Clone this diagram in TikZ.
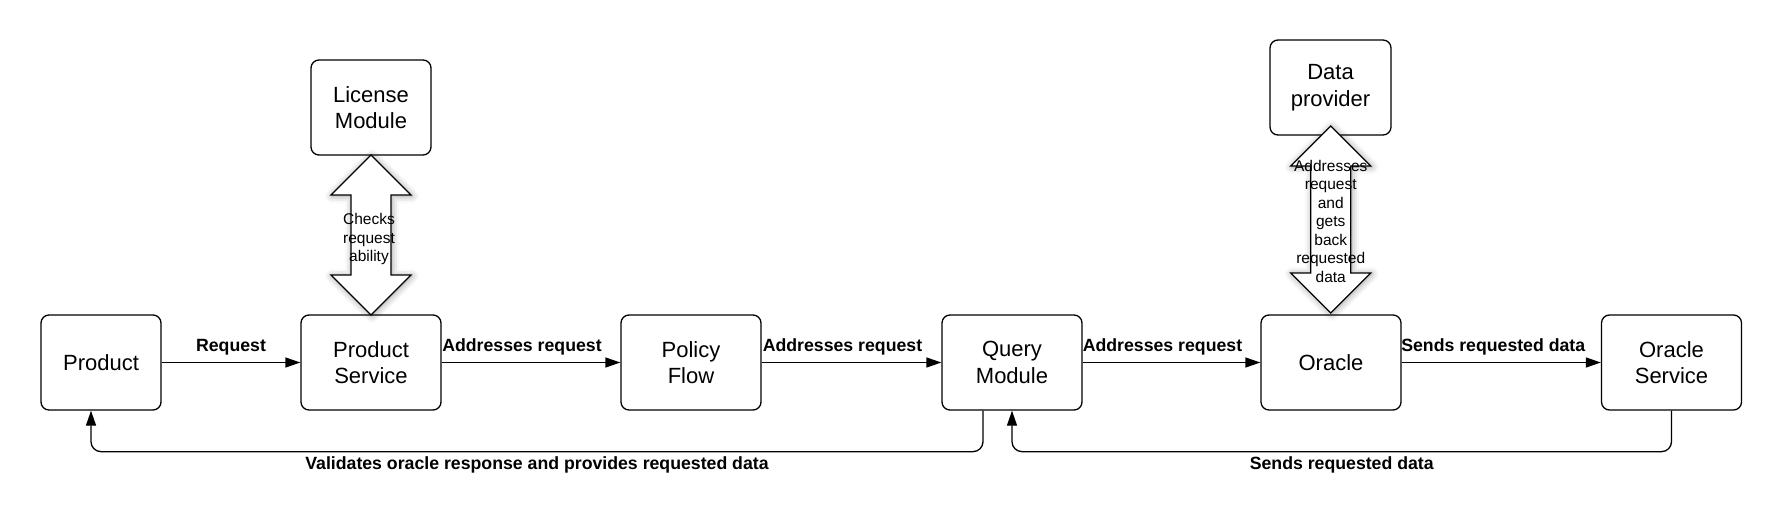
\documentclass[tikz,border=0pt]{standalone}
\usepackage{fontspec}
\setmainfont{Liberation Sans}
\usetikzlibrary{arrows.meta,calc,shadows.blur}
\tikzset{
  box/.style={draw,line width=1.3pt,rounded corners=8pt,minimum width=140pt,
    minimum height=95pt,align=center,font=\fontsize{22}{26.5}\selectfont},
  conn/.style={line width=1.3pt,-{Triangle[length=15pt,width=10pt]}},
  lbl/.style={font=\fontsize{17.7}{20}\selectfont\bfseries,inner sep=0pt},
  arrtxt/.style={align=center,font=\fontsize{15.5}{18.5}\selectfont,inner sep=0pt},
  pics/dblarrow/.style={code={
    \draw[line width=1.3pt,fill=white,
      blur shadow={shadow xshift=1pt,shadow yshift=-1pt,shadow blur radius=7pt}]
      (0,-#1) -- (40,-#1+40) -- (20,-#1+40) -- (20,#1-40) -- (40,#1-40) -- (0,#1)
      -- (-40,#1-40) -- (-20,#1-40) -- (-20,-#1+40) -- (-40,-#1+40) -- cycle;}}
}
\begin{document}
\begin{tikzpicture}[x=1pt,y=-1pt]
    \useasboundingbox (0,0) rectangle (1781,516);
    \node[box,minimum width=120pt] (prod) at (101,362.5) {Product};
    \node[box] (ps) at (371,362.5) {Product\\Service};
    \node[box] (pf) at (691,362.5) {Policy\\Flow};
    \node[box] (qm) at (1012,362.5) {Query\\Module};
    \node[box] (or) at (1331,362.5) {Oracle};
    \node[box] (os) at (1671.5,362.5) {Oracle\\Service};
    \node[box,minimum width=120pt] (lic) at (371,107.5) {License\\Module};
    \node[box,minimum width=121pt] (dp) at (1330.5,87.5) {Data\\provider};

    \draw[conn] (prod) -- node[lbl,above=7pt] {Request} (ps);
    \draw[conn] (ps) -- node[lbl,above=7pt,xshift=-9pt] {Addresses request} (pf);
    \draw[conn] (pf) -- node[lbl,above=7pt,xshift=-9pt] {Addresses request} (qm);
    \draw[conn] (qm) -- node[lbl,above=7pt,xshift=-9pt] {Addresses request} (or);
    \draw[conn] (or) -- node[lbl,above=7pt,xshift=-8pt] {Sends requested data} (os);

    \draw[conn,rounded corners=10pt] ([xshift=-29pt]qm.south) -- ++(0,41)
        -| node[lbl,below=4pt,pos=0.25] {Validates oracle response and provides requested data}
        ([xshift=-10pt]prod.south);
    \draw[conn,rounded corners=10pt] (os.south) -- ++(0,41)
        -| node[lbl,below=4pt,pos=0.25] {Sends requested data} (qm.south);

    \pic at ($(lic.south)!0.5!(ps.north)$) {dblarrow=80};
    \node[arrtxt] (chk) at ($(lic.south)!0.5!(ps.north)+(-2,4)$) {Checks\\request\\ability};
    \pic at ($(dp.south)!0.5!(or.north)+(0,-5.5)$) {dblarrow=93.5};
    \node[arrtxt] (adr) at ($(dp.south)!0.5!(or.north)+(0,-4)$)
        {Addresses\\request\\and\\gets\\back\\requested\\data};
\end{tikzpicture}
\end{document}
